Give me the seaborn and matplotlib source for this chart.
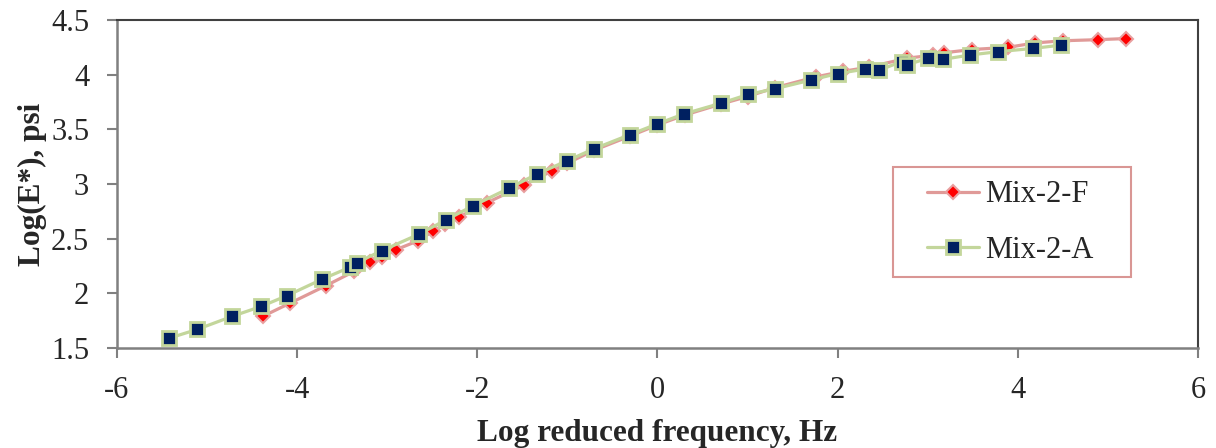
import numpy as np
import pandas as pd
import matplotlib
matplotlib.use("Agg")
import matplotlib.pyplot as plt
from matplotlib.patches import Rectangle
import seaborn as sns

# Mix-2-F (field) data
f_logfreq = [-4.38, -4.08, -3.68, -3.37, -3.19, -3.06, -2.90, -2.66, -2.49, -2.36,
             -2.20, -1.89, -1.48, -1.17, -1.00, -0.70, -0.30, 0.00, 0.30, 0.70,
             1.00, 1.30, 1.76, 2.06, 2.35, 2.77, 3.06, 3.18, 3.49, 3.89,
             4.19, 4.50, 4.89, 5.20]
f_loge = [1.79, 1.91, 2.07, 2.20, 2.29, 2.33, 2.40, 2.48, 2.57, 2.63,
          2.70, 2.83, 2.99, 3.12, 3.19, 3.31, 3.44, 3.54, 3.63, 3.73,
          3.80, 3.88, 3.98, 4.03, 4.07, 4.15, 4.18, 4.20, 4.23, 4.25,
          4.29, 4.31, 4.32, 4.33]

# Mix-2-A data
a_logfreq = [-5.42, -5.11, -4.72, -4.40, -4.11, -3.72, -3.41, -3.34, -3.06, -2.65,
             -2.35, -2.05, -1.65, -1.34, -1.01, -0.71, -0.31, 0.00, 0.29, 0.71,
             1.01, 1.30, 1.70, 2.00, 2.30, 2.46, 2.71, 2.77, 3.00, 3.17,
             3.47, 3.78, 4.17, 4.48]
a_loge = [1.59, 1.67, 1.79, 1.88, 1.98, 2.13, 2.24, 2.28, 2.39, 2.54,
          2.67, 2.80, 2.96, 3.09, 3.21, 3.32, 3.45, 3.55, 3.64, 3.74,
          3.82, 3.87, 3.95, 4.01, 4.05, 4.04, 4.12, 4.09, 4.15, 4.14,
          4.18, 4.21, 4.24, 4.27]

x_ticks = [-6, -4, -2, 0, 2, 4, 6]
y_ticks = [1.5, 2, 2.5, 3, 3.5, 4, 4.5]
y_tick_labels = ["1.5", "2", "2.5", "3", "3.5", "4", "4.5"]

df_f = pd.DataFrame({"freq": f_logfreq, "E": f_loge})
df_a = pd.DataFrame({"freq": a_logfreq, "E": a_loge})

sns.set_style("white")
plt.rcParams['font.family'] = ['Liberation Serif', 'DejaVu Serif']

fig = plt.figure(figsize=(12.16, 4.48), dpi=100)
ax = fig.add_axes([0.0962, 0.2232, 0.889, 0.7322])

sns.lineplot(data=df_f, x="freq", y="E", ax=ax, sort=False, color="#E09A98",
             linewidth=2.3, marker="D", markersize=7.5, markerfacecolor="#FF0000",
             markeredgecolor="#E8A0A0", markeredgewidth=1.5, label="Mix-2-F")
sns.lineplot(data=df_a, x="freq", y="E", ax=ax, sort=False, color="#C3D69B",
             linewidth=2.3, marker="s", markersize=10, markerfacecolor="#002060",
             markeredgecolor="#C3D69B", markeredgewidth=2, label="Mix-2-A")

ax.set_xlim(-6, 6)
ax.set_ylim(1.5, 4.5)
ax.set_xticks(x_ticks)
ax.set_xticklabels([str(v) for v in x_ticks])
ax.set_yticks(y_ticks)
ax.set_yticklabels(y_tick_labels)
ax.tick_params(axis="both", direction="out", length=7, width=1.5, color="#808080",
               labelsize=22, pad=13, left=True, bottom=True)

for side in ["left", "bottom"]:
    ax.spines[side].set_color("#808080")
    ax.spines[side].set_linewidth(1.8)
for side in ["top", "right"]:
    ax.spines[side].set_color("#404040")
    ax.spines[side].set_linewidth(1.5)

ax.set_xlabel("Log reduced frequency, Hz", fontsize=22.5, fontweight="bold", labelpad=10)
ax.set_ylabel("Log(E*), psi", fontsize=22.5, fontweight="bold", labelpad=3)

# legend: content placed inside a hand-sized frame like the original
leg = ax.legend(loc="center left", bbox_to_anchor=(0.749, 0.3825), fontsize=22,
                frameon=False, handlelength=1.7, labelspacing=0.86,
                borderpad=0, handletextpad=0.2, borderaxespad=0)
ax.add_patch(Rectangle((0.718, 0.2165), 0.2202, 0.3354, transform=ax.transAxes,
                       fill=True, facecolor="white", edgecolor="#D99694",
                       linewidth=1.5, zorder=4))
leg.set_zorder(5)

fig.savefig("out.png", dpi=100)
